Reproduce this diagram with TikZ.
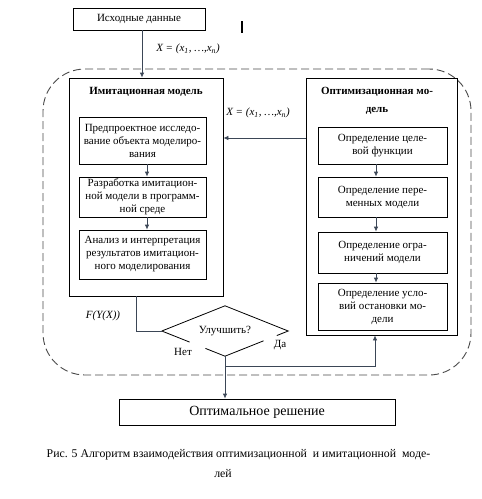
\documentclass[tikz,border=0pt]{standalone}
\usepackage{fontspec}
\setmainfont{Liberation Serif}
\usetikzlibrary{arrows.meta,shapes.geometric,calc}
\definecolor{linec}{HTML}{3B4656}
\definecolor{dashc}{HTML}{4A4A4A}
\begin{document}
\begin{tikzpicture}[x=1pt,y=-1pt,
  box/.style={draw=black,line width=0.8pt,inner sep=0pt,align=center,font=\fontsize{11}{13}\selectfont},
  conn/.style={draw=linec,line width=0.8pt},
  arr/.style={conn,-{Latex[length=5pt,width=4.5pt]}},
  lbl/.style={inner sep=0pt,font=\fontsize{11}{13}\selectfont},
  ttl/.style={inner sep=0pt,align=center,font=\bfseries\fontsize{11}{18}\selectfont},
  ]
\useasboundingbox (0,0) rectangle (482,499);
\node[draw=dashc,line width=0.9pt,dash pattern=on 8pt off 4pt,rounded corners=42pt,
  minimum width=428,minimum height=306,inner sep=0pt] (grp) at (257,222) {};
% top
\node[box,minimum width=132,minimum height=22] (src) at (139,19) {Исходные данные};
\draw[line width=2pt] (242,21) -- (242,33);
\node[lbl,font=\itshape\fontsize{11}{13}\selectfont] (xl1) at (188,49) {X = (x\textsubscript{1}, …,x\textsubscript{n})};
% imitation model
\node[box,minimum width=154,minimum height=218] (imit) at (146,187) {};
\node[ttl] (imitT) at (146,92) {Имитационная модель};
\node[box,minimum width=127,minimum height=47] (i1) at (142.5,140.5) {Предпроектное исследо-\\вание объекта моделиро-\\вания};
\node[box,minimum width=127,minimum height=40] (i2) at (142.5,197) {Разработка имитацион-\\ной модели в программ-\\ной среде};
\node[box,minimum width=127,minimum height=49] (i3) at (142.5,254.5) {Анализ и интерпретация\\результатов имитацион-\\ного моделирования};
% optimisation model
\node[box,minimum width=151,minimum height=257] (opt) at (381.5,206.5) {};
\node[ttl] (optT) at (377,101) {Оптимизационная мо-\\дель};
\node[box,minimum width=129,minimum height=37] (o1) at (382.5,145.5) {Определение целе-\\вой функции};
\node[box,minimum width=129,minimum height=40] (o2) at (382.5,197) {Определение пере-\\менных модели};
\node[box,minimum width=129,minimum height=41] (o3) at (382.5,252.5) {Определение огра-\\ничений модели};
\node[box,minimum width=129,minimum height=47] (o4) at (382.5,306.5) {Определение усло-\\вий остановки мо-\\дели};
\node[lbl,font=\itshape\fontsize{11}{13}\selectfont] (xl2) at (258,113) {X = (x\textsubscript{1}, …,x\textsubscript{n})};
% decision
\node[diamond,aspect=2.52,minimum width=126,minimum height=50,inner sep=0pt,
  font=\fontsize{11}{13}\selectfont] (d) at (225,331) {Улучшить?};
\draw[black,line width=0.8pt] (d.west) -- (d.north) -- (d.east) -- ($(d.east)!0.18!(d.south)$)
  ($(d.east)!0.39!(d.south)$) -- (d.south) -- ($(d.south)!0.31!(d.west)$)
  ($(d.south)!0.56!(d.west)$) -- (d.west);
\node[lbl,font=\itshape\fontsize{11}{13}\selectfont] (fyx) at (103,316) {F(Y(X))};
\node[lbl] (no) at (183,352) {Нет};
\node[lbl] (yes) at (280,345) {Да};
% result
\node[box,minimum width=276,minimum height=26,font=\fontsize{14}{16}\selectfont] (res) at (257,412) {Оптимальное решение};
% caption
\node[lbl,font=\fontsize{11.8}{14}\selectfont] (cap1) at (238.5,455) {Рис. 5 Алгоритм взаимодействия оптимизационной\ \ и имитационной\ \ моде-};
\node[lbl,font=\fontsize{11.8}{14}\selectfont] (cap2) at (223,474) {лей};
% connectors
\coordinate (ax) at (142,0);
\draw[arr] (ax |- src.south) -- (ax |- imit.north);
\coordinate (ia) at (147,0);
\draw[arr] (ia |- i1.south) -- (ia |- i2.north);
\draw[arr] (ia |- i2.south) -- (ia |- i3.north);
\coordinate (oa) at (376,0);
\draw[arr] (oa |- o1.south) -- (oa |- o2.north);
\draw[arr] (oa |- o2.south) -- (oa |- o3.north);
\draw[arr] (oa |- o3.south) -- (oa |- o4.north);
\coordinate (xa) at (0,138);
\draw[arr] (xa -| opt.west) -- (xa -| imit.east);
\coordinate (fb) at (136,331);
\draw[conn] (fb |- imit.south) -- (fb) -- (d.west);
\coordinate (j) at (225,366);
\coordinate (ob) at (375,0);
\draw[conn] (d.south) -- (j);
\draw[arr] (j) -| (ob |- opt.south);
\draw[arr] (j) -- (j |- res.north);
\end{tikzpicture}
\end{document}
